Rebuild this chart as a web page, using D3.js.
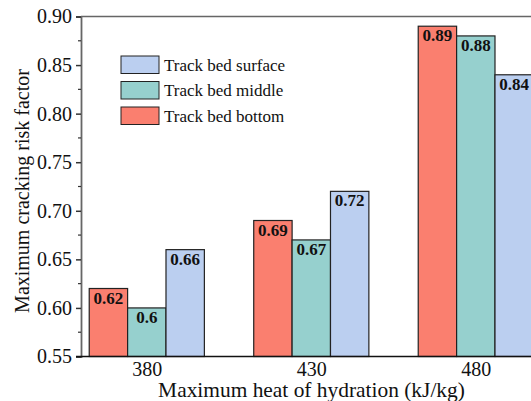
<!DOCTYPE html>
<html lang="en">
<head>
<meta charset="utf-8">
<title>Cracking risk</title>
<script src="https://d3js.org/d3.v7.min.js"></script>
<style>
  body { margin: 0; background: #fff; }
</style>
</head>
<body>
<div class="chart"></div>
<script>
// data
const heats = [380, 430, 480];
const seriesNames = ["Track bed bottom", "Track bed middle", "Track bed surface"];
const bottom = [0.62, 0.69, 0.89];
const middle = [0.60, 0.67, 0.88];
const surface = [0.66, 0.72, 0.84];
const yTicks = [0.55, 0.60, 0.65, 0.70, 0.75, 0.80, 0.85, 0.90];
const colors = ["#fa7f6f", "#96d0ce", "#bbcff0"];

const serif = "'Liberation Serif'";
const width = 531, height = 401;
const plotLeft = 81, plotTop = 16.5, plotBottom = 356.5, plotRight = 541.6;

const svg = d3.select(".chart").append("svg")
  .attr("width", width)
  .attr("height", height);

const x = d3.scaleLinear().domain([360, 500]).range([plotLeft, plotRight]);
const y = d3.scaleLinear().domain([0.55, 0.90]).range([plotBottom, plotTop]);
const barW = x(360 + 35 / 3) - x(360);

const series = [bottom, middle, surface];

// bars
series.forEach((vals, s) => {
  const g = svg.append("g");
  g.selectAll("rect")
    .data(heats)
    .enter()
    .append("rect")
    .attr("x", (d, i) => x(d) + (s - 1.5) * barW)
    .attr("y", (d, i) => y(vals[i]))
    .attr("width", barW)
    .attr("height", (d, i) => y(0.55) - y(vals[i]))
    .attr("fill", colors[s])
    .attr("stroke", "#222")
    .attr("stroke-width", 1.2);

  g.selectAll("text")
    .data(heats)
    .enter()
    .append("text")
    .attr("x", (d, i) => x(d) + (s - 1) * barW)
    .attr("y", (d, i) => y(vals[i]) + 15)
    .attr("text-anchor", "middle")
    .style("font-family", serif)
    .attr("font-size", 17)
    .attr("font-weight", "bold")
    .attr("fill", "#111")
    .text((d, i) => String(+vals[i].toFixed(2)));
});

// frame: top border
svg.append("line")
  .attr("x1", plotLeft).attr("x2", width)
  .attr("y1", plotTop).attr("y2", plotTop)
  .attr("stroke", "#666").attr("stroke-width", 1.6);

// y axis
const yAxis = d3.axisLeft(y)
  .tickValues(yTicks)
  .tickFormat(d3.format(".2f"))
  .tickSize(5)
  .tickPadding(4);
const yg = svg.append("g")
  .attr("transform", `translate(${plotLeft},0)`)
  .call(yAxis);
yg.select(".domain").attr("stroke", "#666").attr("stroke-width", 1.8);
yg.selectAll(".tick line").attr("stroke", "#333").attr("stroke-width", 1.5);
yg.selectAll(".tick text")
  .style("font-family", serif)
  .attr("font-size", 20)
  .attr("fill", "#111");

// minor y ticks
const minor = d3.range(0.575, 0.9, 0.05);
svg.append("g").selectAll("line")
  .data(minor)
  .enter()
  .append("line")
  .attr("x1", plotLeft - 3).attr("x2", plotLeft)
  .attr("y1", d => y(d)).attr("y2", d => y(d))
  .attr("stroke", "#333").attr("stroke-width", 1.2);

// x axis
const xAxis = d3.axisBottom(x)
  .tickValues(heats)
  .tickFormat(d3.format("d"))
  .tickSize(0)
  .tickPadding(5);
const xg = svg.append("g")
  .attr("transform", `translate(0,${plotBottom})`)
  .call(xAxis);
xg.select(".domain").remove();
xg.append("line")
  .attr("x1", plotLeft - 5).attr("x2", width)
  .attr("stroke", "#111").attr("stroke-width", 1.6);
xg.selectAll(".tick text")
  .style("font-family", serif)
  .attr("font-size", 20)
  .attr("fill", "#111");

// axis titles
const xTitle = svg.append("text")
  .attr("x", 311.5)
  .attr("y", 397)
  .attr("text-anchor", "middle")
  .style("font-family", serif)
  .attr("font-size", 20)
  .attr("fill", "#111")
  .text("Maximum heat of hydration (kJ/kg)");
// fit the title to the width it has in the picture (~307px)
const xw = xTitle.node().getComputedTextLength();
if (xw > 0) xTitle.attr("font-size", 20 * 307 / xw);

svg.append("text")
  .attr("transform", `translate(29,191) rotate(-90)`)
  .attr("text-anchor", "middle")
  .style("font-family", serif)
  .attr("font-size", 20)
  .attr("fill", "#111")
  .text("Maximum cracking risk factor");

// legend (surface on top)
const legendOrder = [2, 1, 0];
const lg = svg.append("g");
legendOrder.forEach((s, k) => {
  const ly = 56 + k * 25.5;
  lg.append("rect")
    .attr("x", 121).attr("y", ly)
    .attr("width", 38).attr("height", 17.5)
    .attr("fill", colors[s])
    .attr("stroke", "#222").attr("stroke-width", 1);
  lg.append("text")
    .attr("x", 164).attr("y", ly + 14.5)
    .style("font-family", serif)
    .attr("font-size", 17)
    .attr("fill", "#111")
    .text(seriesNames[s]);
});
</script>
</body>
</html>
